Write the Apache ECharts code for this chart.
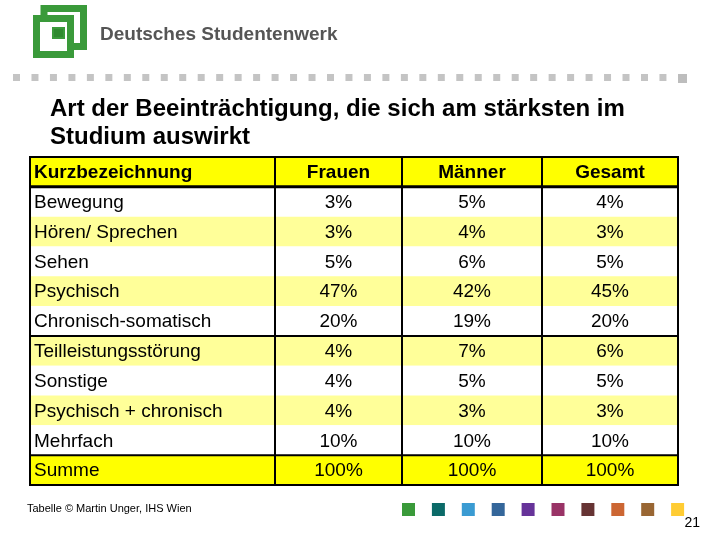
<!DOCTYPE html>
<html><head><meta charset="utf-8">
<script src="https://cdn.jsdelivr.net/npm/echarts@6/dist/echarts.min.js"></script>
<style>html,body{margin:0;padding:0;background:#fff}#c{width:720px;height:540px}</style>
</head><body><div id="c"></div>
<script>
const headers = ['Kurzbezeichnung', 'Frauen', 'Männer', 'Gesamt'];
const categories = ['Bewegung', 'Hören/ Sprechen', 'Sehen', 'Psychisch', 'Chronisch-somatisch',
  'Teilleistungsstörung', 'Sonstige', 'Psychisch + chronisch', 'Mehrfach', 'Summe'];
const frauen  = [3, 3, 5, 47, 20, 4, 4, 4, 10, 100];
const maenner = [5, 4, 6, 42, 19, 7, 5, 3, 10, 100];
const gesamt  = [4, 3, 5, 45, 20, 6, 5, 3, 10, 100];
const titleText = 'Art der Beeinträchtigung, die sich am stärksten im\nStudium auswirkt';
const footerText = 'Tabelle © Martin Unger, IHS Wien';
const pageNumber = '21';
const swatchColors = ['#3a9a3a', '#0b6a68', '#3a9bd2', '#34669a', '#663399', '#993366', '#663333', '#cc6633', '#996633', '#ffcc33'];

// layout (style) constants
const FONT = '"Liberation Sans", Arial, sans-serif';
const colEdges = [0, 245, 372, 512, 648];
const rowFills = ['#ffff00', '#ffffff', '#ffff99', '#ffffff', '#ffff99', '#ffffff', '#ffff99', '#ffffff', '#ffff99', '#ffffff', '#ffff00'];
const yLabels = [headers[0]].concat(categories);
const valueCols = [frauen, maenner, gesamt];

function band(api, r) {
  const c = api.coord([0, r]);
  const h = api.size([0, 1])[1];
  return { top: c[1] - h / 2, h: h };
}

const bgData = yLabels.map((_, r) => [0, r]);
const cellData = [];
yLabels.forEach((_, r) => { for (let c = 0; c < 4; c++) cellData.push([c, r]); });
// horizontal borders: [x, row, side(0=top,1=bottom), width]
const hLines = [[0, 0, 0, 2], [0, 0, 1, 3], [0, 5, 1, 2], [0, 10, 0, 2], [0, 10, 1, 2]];
const vLines = colEdges.map(e => [e, 0]);

const graphics = [];
// logo
graphics.push({ type: 'rect', shape: { x: 44, y: 8.5, width: 39.5, height: 38 }, style: { fill: 'none', stroke: '#3a9a3a', lineWidth: 7 } });
graphics.push({ type: 'rect', shape: { x: 36.5, y: 18.5, width: 34, height: 36 }, style: { fill: '#ffffff', stroke: '#3a9a3a', lineWidth: 7 } });
graphics.push({ type: 'rect', shape: { x: 53, y: 28, width: 11, height: 10 }, style: { fill: '#2f8a2f', stroke: '#3a9a3a', lineWidth: 2 } });
graphics.push({ type: 'text', style: { x: 100, y: 35, text: 'Deutsches Studentenwerk', fill: '#555555', fontSize: 19, fontWeight: 'bold', fontFamily: FONT, verticalAlign: 'middle' } });
// dotted separator
for (let i = 0; i < 36; i++) {
  graphics.push({ type: 'rect', shape: { x: 13 + i * 18.47, y: 74, width: 7, height: 7 }, style: { fill: '#c4c4c4' } });
}
graphics.push({ type: 'rect', shape: { x: 678, y: 74, width: 9, height: 9 }, style: { fill: '#bdbdbd' } });
// colour swatches
swatchColors.forEach((col, i) => {
  graphics.push({ type: 'rect', shape: { x: 402 + i * 29.9, y: 503, width: 13, height: 13 }, style: { fill: col } });
});
graphics.push({ type: 'text', style: { x: 27, y: 509, text: footerText, fill: '#000', fontSize: 11, fontFamily: FONT, verticalAlign: 'middle' } });
graphics.push({ type: 'text', style: { x: 700, y: 523, text: pageNumber, fill: '#000', fontSize: 14, fontFamily: FONT, align: 'right', verticalAlign: 'middle' } });

const chart = echarts.init(document.getElementById('c'), null, { renderer: 'canvas' });
chart.setOption({
  animation: false,
  backgroundColor: '#ffffff',
  title: {
    text: titleText, left: 45, top: 90,
    textStyle: { fontSize: 24, fontWeight: 'bold', lineHeight: 28, color: '#000', fontFamily: FONT }
  },
  grid: { left: 30, right: 42, top: 157, bottom: 55 },
  xAxis: { type: 'value', min: 0, max: 648, show: false },
  yAxis: { type: 'category', inverse: true, data: yLabels, show: false },
  graphic: graphics,
  series: [
    {
      type: 'custom', silent: true, z: 1, data: bgData, encode: { x: 0, y: 1 },
      renderItem(params, api) {
        const r = api.value(1);
        const b = band(api, r);
        const x0 = api.coord([colEdges[0], r])[0];
        const x1 = api.coord([colEdges[4], r])[0];
        return { type: 'rect', shape: { x: x0, y: b.top, width: x1 - x0, height: b.h }, style: { fill: rowFills[r] } };
      }
    },
    {
      type: 'custom', silent: true, z: 3, data: cellData, encode: { x: 0, y: 1 },
      renderItem(params, api) {
        const c = api.value(0), r = api.value(1);
        const y = api.coord([0, r])[1];
        const xa = api.coord([colEdges[c], r])[0];
        const xb = api.coord([colEdges[c + 1], r])[0];
        let text;
        if (r === 0) text = headers[c];
        else if (c === 0) text = categories[r - 1];
        else text = valueCols[c - 1][r - 1] + '%';
        return {
          type: 'text',
          style: {
            x: c === 0 ? xa + 4 : (xa + xb) / 2, y: y + 1, text: text,
            fill: '#000', fontSize: 19, fontFamily: FONT,
            fontWeight: (r === 0) ? 'bold' : 'normal',
            align: c === 0 ? 'left' : 'center', verticalAlign: 'middle'
          }
        };
      }
    },
    {
      type: 'custom', silent: true, z: 4, data: hLines, encode: { x: 0, y: 1 },
      renderItem(params, api) {
        const r = api.value(1), side = api.value(2), w = api.value(3);
        const b = band(api, r);
        const y = side === 0 ? b.top : b.top + b.h;
        const x0 = api.coord([colEdges[0], r])[0];
        const x1 = api.coord([colEdges[4], r])[0];
        return { type: 'line', shape: { x1: x0 - 1, y1: y, x2: x1 + 1, y2: y }, style: { stroke: '#000', lineWidth: w } };
      }
    },
    {
      type: 'custom', silent: true, z: 4, data: vLines, encode: { x: 0, y: 1 },
      renderItem(params, api) {
        const e = api.value(0);
        const t = band(api, 0);
        const bb = band(api, yLabels.length - 1);
        const x = api.coord([e, 0])[0];
        return { type: 'line', shape: { x1: x, y1: t.top, x2: x, y2: bb.top + bb.h }, style: { stroke: '#000', lineWidth: 2 } };
      }
    }
  ]
});
</script>
</body></html>
